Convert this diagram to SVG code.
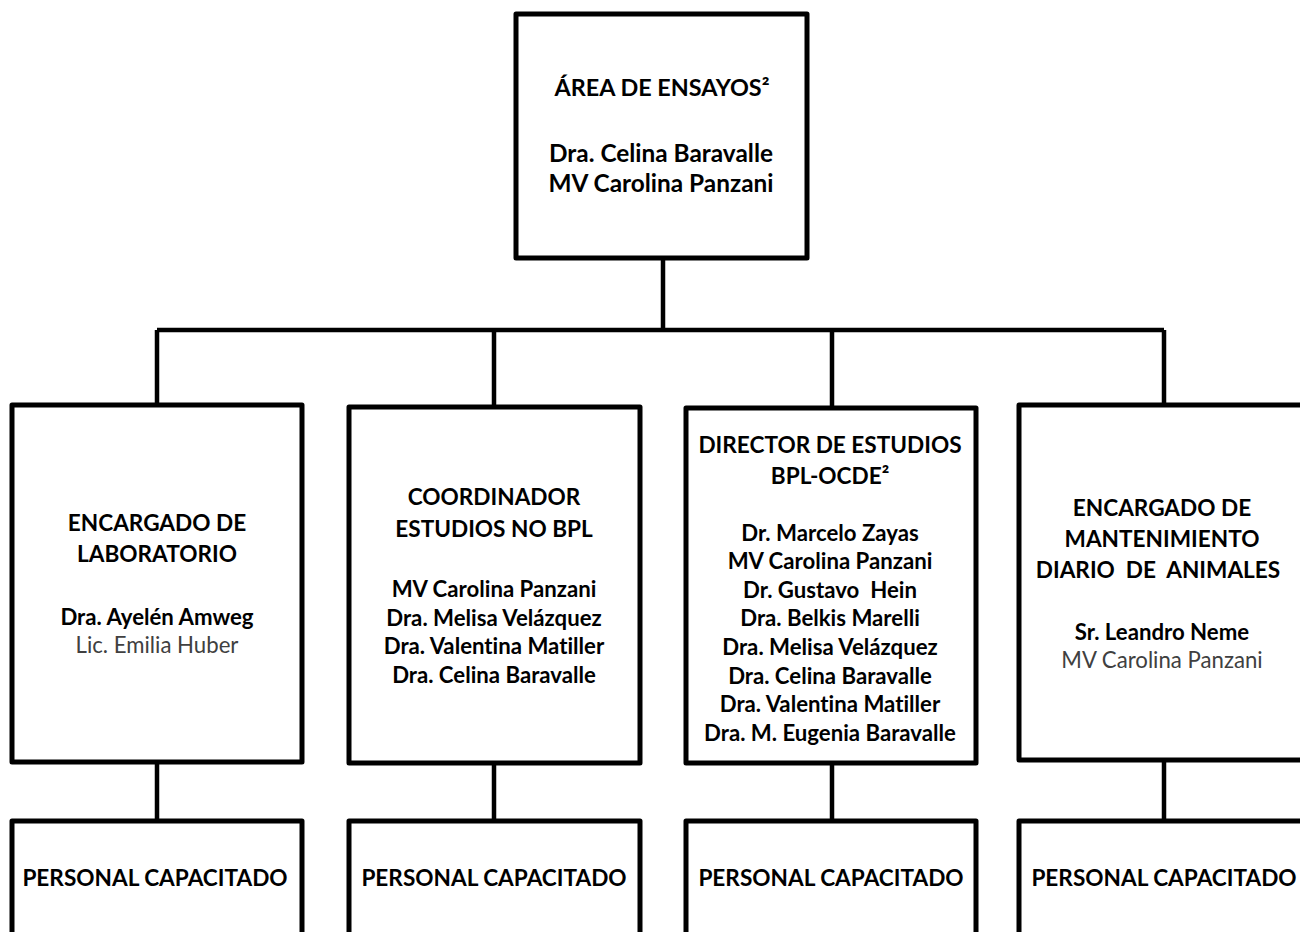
<svg xmlns="http://www.w3.org/2000/svg" width="1300" height="932" viewBox="0 0 1300 932">
<style>
.box{fill:#fff;stroke:#000;stroke-width:5;stroke-linejoin:round}
.con{fill:none;stroke:#000;stroke-width:4.5}
text{font-family:Lato,"Carlito","Liberation Sans",sans-serif;text-anchor:middle;fill:#000;font-weight:bold;font-variant-ligatures:none}
.t{font-size:23.4px}
.tn{font-size:24.4px}
.h{font-size:22.6px}
.n{font-size:22.2px}
.g{font-size:22.2px;font-weight:normal;fill:#404040}
</style>
<rect width="1300" height="932" fill="#fff"/>
<g id="connectors">
<path class="con" d="M663,258V330M157,330H1164M157,330V405M494,330V407M832,330V408M1164,330V405"/>
<path class="con" d="M157,762V821M494,763V821M832,763V821M1164,760V821"/>
</g>
<g id="area-ensayos">
<rect class="box" x="516" y="14" width="291" height="244"/>
<text class="t" x="662" y="96">ÁREA DE ENSAYOS²</text>
<text class="tn" x="661" y="162">Dra. Celina Baravalle</text>
<text class="tn" x="661" y="192">MV Carolina Panzani</text>
</g>
<g id="encargado-laboratorio">
<rect class="box" x="12" y="405" width="290" height="357"/>
<text class="h" x="157" y="531">ENCARGADO DE</text>
<text class="h" x="157" y="562">LABORATORIO</text>
<text class="n" x="157" y="625">Dra. Ayelén Amweg</text>
<text class="g" x="157" y="653">Lic. Emilia Huber</text>
</g>
<g id="coordinador">
<rect class="box" x="349" y="407" width="291" height="356"/>
<text class="h" x="494" y="505">COORDINADOR</text>
<text class="h" x="494" y="537">ESTUDIOS NO BPL</text>
<text class="n" x="494" y="597">MV Carolina Panzani</text>
<text class="n" x="494" y="626">Dra. Melisa Velázquez</text>
<text class="n" x="494" y="654">Dra. Valentina Matiller</text>
<text class="n" x="494" y="683">Dra. Celina Baravalle</text>
</g>
<g id="director">
<rect class="box" x="686" y="408" width="290" height="355"/>
<text class="h" x="830" y="453">DIRECTOR DE ESTUDIOS</text>
<text class="h" x="830" y="484">BPL-OCDE²</text>
<text class="n" x="830" y="541">Dr. Marcelo Zayas</text>
<text class="n" x="830" y="569">MV Carolina Panzani</text>
<text class="n" x="830" y="598" xml:space="preserve">Dr. Gustavo  Hein</text>
<text class="n" x="830" y="626">Dra. Belkis Marelli</text>
<text class="n" x="830" y="655">Dra. Melisa Velázquez</text>
<text class="n" x="830" y="684">Dra. Celina Baravalle</text>
<text class="n" x="830" y="712">Dra. Valentina Matiller</text>
<text class="n" x="830" y="741">Dra. M. Eugenia Baravalle</text>
</g>
<g id="encargado-mantenimiento">
<rect class="box" x="1019" y="405" width="290" height="355"/>
<text class="h" x="1162" y="516">ENCARGADO DE</text>
<text class="h" x="1162" y="547">MANTENIMIENTO</text>
<text class="h" x="1158" y="578" xml:space="preserve">DIARIO  DE  ANIMALES</text>
<text class="n" x="1162" y="640">Sr. Leandro Neme</text>
<text class="g" x="1162" y="668">MV Carolina Panzani</text>
</g>
<g id="personal-1">
<rect class="box" x="12" y="821" width="290" height="150"/>
<text class="h" x="155" y="886">PERSONAL CAPACITADO</text>
</g>
<g id="personal-2">
<rect class="box" x="349" y="821" width="291" height="150"/>
<text class="h" x="494" y="886">PERSONAL CAPACITADO</text>
</g>
<g id="personal-3">
<rect class="box" x="686" y="821" width="290" height="150"/>
<text class="h" x="831" y="886">PERSONAL CAPACITADO</text>
</g>
<g id="personal-4">
<rect class="box" x="1019" y="821" width="290" height="150"/>
<text class="h" x="1164" y="886">PERSONAL CAPACITADO</text>
</g>
</svg>
